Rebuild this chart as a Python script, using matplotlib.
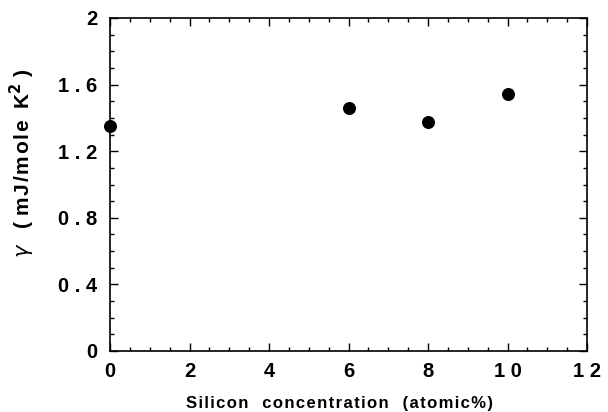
import numpy as np
import matplotlib.pyplot as plt
from matplotlib.ticker import MultipleLocator, FuncFormatter

# Silicon content vs electronic specific heat coefficient
si_conc = [0, 6, 8, 10]
gamma = [1.35, 1.46, 1.375, 1.545]

plt.rcParams['font.family'] = ['Liberation Sans', 'DejaVu Sans']

HS = "\u200a"  # hair space, mimics the loose letter spacing of the original

def loose(s):
    return HS.join(s)

fig = plt.figure(figsize=(6.08, 4.12), dpi=100)
ax = fig.add_axes([110/608, 1 - 351/412, 477/608, 333/412])

ax.scatter(si_conc, gamma, s=70, color='black', zorder=3, clip_on=False)

ax.set_xlim(0, 12)
ax.set_ylim(0, 2)
ax.xaxis.set_major_locator(MultipleLocator(2))
ax.xaxis.set_minor_locator(MultipleLocator(0.5))
ax.yaxis.set_major_locator(MultipleLocator(0.4))
ax.yaxis.set_minor_locator(MultipleLocator(0.1))

def spaced(v, pos):
    s = f"{v:.1f}" if abs(v - round(v)) > 1e-6 else f"{int(round(v))}"
    return " ".join(s) if len(s) > 1 else s

ax.xaxis.set_major_formatter(FuncFormatter(spaced))
ax.yaxis.set_major_formatter(FuncFormatter(spaced))

ax.tick_params(which='both', direction='in', top=True, right=True, width=1)
ax.tick_params(which='major', length=6, labelsize=14.5)
ax.tick_params(which='minor', length=3)
ax.tick_params(axis='x', pad=8)
ax.tick_params(axis='y', pad=9)
for lab in ax.get_xticklabels() + ax.get_yticklabels():
    lab.set_fontweight('bold')
for sp in ax.spines.values():
    sp.set_linewidth(1.2)

fig.text(340/608, 1 - 408/412, loose("Silicon") + "   " + loose("concentration") + "   " + loose("(atomic%)"),
         fontsize=12, fontweight='bold', ha='center', va='baseline')
fig.text(22/608, 1 - 163/412,
         r"$\gamma$   " + loose("(") + " " + loose("mJ/mole") + "  K$^{\\mathbf{2}}$ )",
         fontsize=15, fontweight='bold', ha='center', va='center', rotation=90)

fig.savefig("out.png", dpi=100)
